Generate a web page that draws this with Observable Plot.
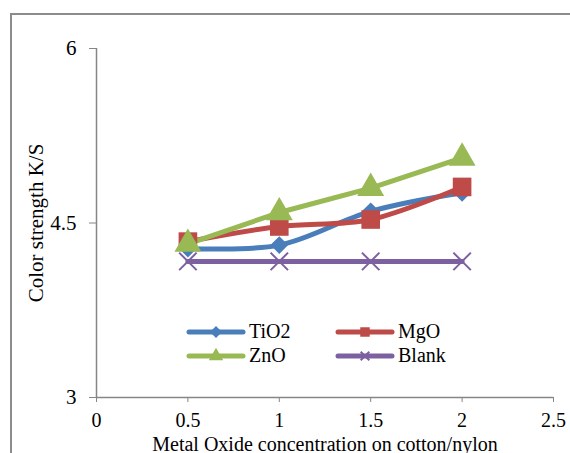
<!DOCTYPE html>
<html><head><meta charset="utf-8">
<script src="https://cdn.jsdelivr.net/npm/d3@7"></script>
<script src="https://cdn.jsdelivr.net/npm/@observablehq/plot@0.6"></script>
</head><body style="margin:0;background:#fff">
<div id="wrap" style="position:relative;width:570px;height:453px;overflow:hidden">
<div id="plot"></div>
<div id="frame" style="position:absolute;left:10px;top:13px;width:620px;height:520px;border:2px solid #8c8c8c;box-sizing:border-box;pointer-events:none"></div>
<div id="legend" style="position:absolute;left:185px;top:320px;display:grid;grid-template-columns:149px 120px;row-gap:1px;font-size:20px;color:#000;font-family:'Liberation Serif'"></div>
</div>
<script>
const concentrations = [0.5, 1, 1.5, 2];
const seriesNames = ["TiO2", "MgO", "ZnO", "Blank"];
const tio2  = [4.28, 4.31, 4.60, 4.76];
const mgo   = [4.34, 4.47, 4.53, 4.81];
const zno   = [4.32, 4.59, 4.80, 5.06];
const blank = [4.17, 4.17, 4.17, 4.17];
const xTicks = [0, 0.5, 1, 1.5, 2, 2.5];
const yTicks = [3, 4.5, 6];
const colors = ["#4a7ebb", "#be4b48", "#98b954", "#7d60a0"];
const symbols = ["diamond2", "square", "triangle", "times"];
const curves = ["catmull-rom", "catmull-rom", "linear", "linear"];
const FONT = "Liberation Serif";

const values = [tio2, mgo, zno, blank];
const data = [];
seriesNames.forEach((s, i) => concentrations.forEach((c, j) => data.push({series: s, x: c, y: values[i][j]})));

const marks = [
  Plot.ruleX([0], {stroke: "#868686", strokeWidth: 1.5}),
  Plot.ruleY([3], {stroke: "#868686", strokeWidth: 1.5}),
  Plot.axisX({ticks: xTicks, tickSize: 5, tickPadding: 10, stroke: "#868686", fontSize: 20, tickFormat: d => String(d), label: null}),
  Plot.axisX({ticks: [], tickSize: 0, fontSize: 20, label: "Metal Oxide concentration on cotton/nylon", labelAnchor: "center", labelOffset: 53, labelArrow: "none"}),
  Plot.axisY({ticks: yTicks, tickSize: 7, tickPadding: 13, stroke: "#868686", fontSize: 21, tickFormat: d => String(d), label: "Color strength K/S", labelAnchor: "center", labelOffset: 68, labelArrow: "none"})
];
seriesNames.forEach((s, i) => {
  const d = data.filter(r => r.series === s);
  marks.push(Plot.line(d, {x: "x", y: "y", stroke: colors[i], strokeWidth: 5, curve: curves[i]}));
});
seriesNames.forEach((s, i) => {
  const d = data.filter(r => r.series === s);
  const sym = symbols[i];
  if (sym === "times") {
    marks.push(Plot.dot(d, {x: "x", y: "y", symbol: "times", r: 8, stroke: colors[i], strokeWidth: 2}));
  } else {
    const r = sym === "square" ? 10.5 : sym === "triangle" ? 10 : 8;
    marks.push(Plot.dot(d, {x: "x", y: "y", symbol: sym, r, fill: colors[i], stroke: "none"}));
  }
});

const chart = Plot.plot({
  width: 570, height: 453,
  marginLeft: 96, marginRight: 17, marginTop: 48, marginBottom: 56,
  style: {fontFamily: FONT, fontSize: "21px", color: "#000", background: "#fff"},
  x: {domain: [0, 2.5]},
  y: {domain: [3, 6]},
  marks
});
document.getElementById("plot").appendChild(chart);

const legend = document.getElementById("legend");
[0, 1, 2, 3].forEach(i => {
  const el = document.createElement("div");
  el.style.cssText = "display:flex;align-items:center;height:23px;font-family:'Liberation Serif'";
  const svg = d3.create("svg").attr("width", 62).attr("height", 20).style("margin-right", "2px");
  svg.append("line").attr("x1", 4).attr("x2", 58).attr("y1", 10).attr("y2", 10).attr("stroke", colors[i]).attr("stroke-width", 5).attr("stroke-linecap", "round");
  const sym = d3.symbol().type([d3.symbolDiamond2, d3.symbolSquare, d3.symbolTriangle, d3.symbolTimes][i]).size(i === 3 ? 50 : 90)();
  const p = svg.append("path").attr("d", sym).attr("transform", "translate(31,10)");
  if (i === 3) p.attr("fill", "none").attr("stroke", colors[i]).attr("stroke-width", 2); else p.attr("fill", colors[i]);
  el.appendChild(svg.node());
  el.appendChild(document.createTextNode(seriesNames[i]));
  legend.appendChild(el);
});
</script>
</body></html>
